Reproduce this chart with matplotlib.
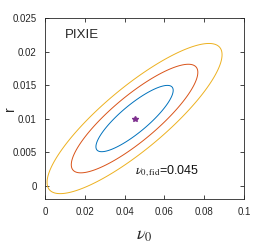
import numpy as np
import matplotlib
matplotlib.use("Agg")
import matplotlib.pyplot as plt

plt.rcParams['font.family'] = ['Liberation Sans', 'DejaVu Sans']
plt.rcParams['mathtext.fontset'] = 'stix'

# fiducial point and Fisher-forecast errors (PIXIE)
nu0_fid = 0.045
r_fid = 0.01
sigma_nu0 = 0.0128
sigma_r = 0.00326
rho = 0.85

# delta chi^2 for 68.3 / 95.4 / 99.7 % (2 params)
levels = [2.30, 6.17, 11.8]
colors = ['#0072BD', '#D95319', '#EDB120']

xticks = [0, 0.02, 0.04, 0.06, 0.08, 0.1]
xticklabels = ['0', '0.02', '0.04', '0.06', '0.08', '0.1']
yticks = [0, 0.005, 0.01, 0.015, 0.02, 0.025]
yticklabels = ['0', '0.005', '0.01', '0.015', '0.02', '0.025']

fig = plt.figure(figsize=(2.70, 2.49), dpi=100)
ax = fig.add_axes([0.1667, 0.2008, 0.737, 0.727])

nu = np.linspace(-0.01, 0.11, 600)
rr = np.linspace(-0.01, 0.03, 600)
X, Y = np.meshgrid(nu, rr)
dx = (X - nu0_fid) / sigma_nu0
dy = (Y - r_fid) / sigma_r
chi2 = (dx**2 - 2 * rho * dx * dy + dy**2) / (1 - rho**2)

ax.contour(X, Y, chi2, levels=levels, colors=colors, linewidths=0.7)
ax.plot(nu0_fid, r_fid, marker='*', color='#7E2F8E', markersize=4, linestyle='none')

ax.set_xlim(0, 0.1)
ax.set_ylim(-0.002, 0.025)
ax.set_xticks(xticks)
ax.set_xticklabels(xticklabels)
ax.set_yticks(yticks)
ax.set_yticklabels(yticklabels)

ax.tick_params(direction='in', top=True, right=True, labelsize=7,
               colors='#262626', length=3, width=0.6, pad=6)
for s in ax.spines.values():
    s.set_color('#262626')
    s.set_linewidth(0.6)

ax.set_xlabel(r'$\nu_0$', fontsize=13, color='#262626', labelpad=7)
ax.set_ylabel('r', fontsize=10, color='#262626')
ax.yaxis.set_label_coords(-0.14, 0.5)

ax.text(0.01, 0.0225, 'PIXIE', fontsize=9.5, color='#262626', va='center')
ax.text(0.045, 0.0021, r'$\nu_{0,\mathrm{fid}}$=0.045', fontsize=9,
        color='#111111', va='center')

fig.savefig('out.png', dpi=100)
